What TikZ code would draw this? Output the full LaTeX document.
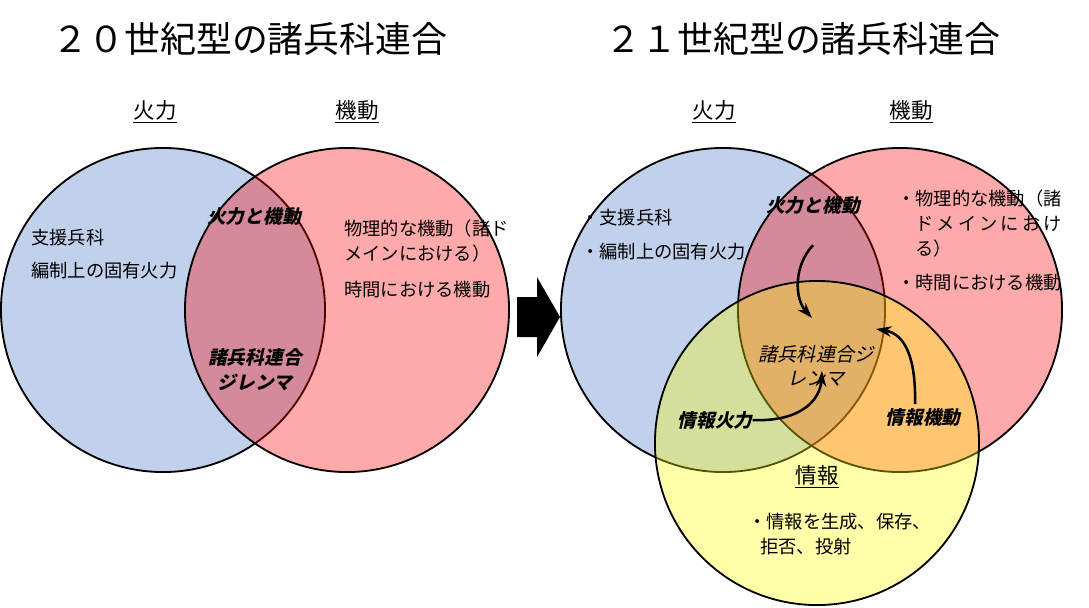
\documentclass[tikz,border=0pt]{standalone}
\usepackage{fontspec}
\setmainfont{Noto Sans CJK JP}
\newfontfamily\jpslant[FakeSlant=0.22]{Noto Sans CJK JP}
\usetikzlibrary{arrows.meta, positioning}
\definecolor{vennblue}{RGB}{68, 114, 196}
\definecolor{vennred}{RGB}{255, 0, 0}
\definecolor{vennyellow}{RGB}{255, 255, 0}
\tikzset{
  venn/.style={draw=black, line width=1.3pt, fill opacity=0.333},
  bigtitle/.style={font=\fontsize{25.5}{30}\selectfont, inner sep=0pt},
  heading/.style={font=\fontsize{15.3}{18}\selectfont, inner sep=0pt},
  body/.style={font=\fontsize{13}{17.8}\selectfont, anchor=west, inner sep=0pt, align=left},
  overlap/.style={font=\jpslant\bfseries\fontsize{13.3}{17.8}\selectfont, align=center, inner sep=0pt},
  curvearrow/.style={line width=1.8pt, -{Stealth[length=11pt, width=7.5pt]}}
}

\begin{document}
\begin{tikzpicture}[x=0.025cm, y=-0.025cm]
  \useasboundingbox (0,0) rectangle (1089,607);

  % 20th century
  \fill[venn, fill=vennblue] (163,310) circle[radius=4.05cm];
  \fill[venn, fill=vennred] (347,310) circle[radius=4.05cm];

  \node[bigtitle] (title20) at (250,39) {２０世紀型の諸兵科連合};
  \node[heading] (fire1) at (155,112) {\underline{火力}};
  \node[heading] (move1) at (357,112) {\underline{機動}};

  \node[body] (support1) at (31,238) {支援兵科};
  \node[body] (organic1) at (31,271) {編制上の固有火力};
  \node[overlap] (fm1) at (254,216) {火力と機動};
  \node[body] (phys1) at (344,241) {物理的な機動（諸ド\\メインにおける）};
  \node[body] (time1) at (344,290) {時間における機動};
  \node[overlap] (dil1) at (255,370) {諸兵科連合\\ジレンマ};

  % transition
  \fill[black] (517,297) -- (537,297) -- (537,277) -- (560,317)
    -- (537,357) -- (537,337) -- (517,337) -- cycle;

  % 21st century
  \fill[venn, fill=vennblue] (723,310) circle[radius=4.05cm];
  \fill[venn, fill=vennred] (900,310) circle[radius=4.05cm];
  \fill[venn, fill=vennyellow] (817,443) circle[radius=4.05cm];

  \node[bigtitle] (title21) at (803,39) {２１世紀型の諸兵科連合};
  \node[heading] (fire2) at (714,112) {\underline{火力}};
  \node[heading] (move2) at (911,112) {\underline{機動}};
  \node[heading] (info2) at (817,477) {\underline{情報}};

  \node[body] (support2) at (581,218) {・支援兵科};
  \node[body] (organic2) at (581,252) {・編制上の固有火力};
  \node[body] (phys2) at (897,224) {・物理的な機動（諸\\
    \hspace*{1em}\makebox[8em]{ド\hfill メ\hfill イ\hfill ン\hfill に\hfill お\hfill け}\\
    \hspace*{1em}る）};
  \node[body] (time2) at (897,283) {・時間における機動};
  \node[body] (infotext) at (748,534) {・情報を生成、保存、\\\hspace*{0.65em}拒否、投射};

  \node[overlap] (fm2) at (813,205) {火力と機動};
  \node[overlap, font=\jpslant\fontsize{13.6}{17}\selectfont] (dil2) at (816,366) {諸兵科連合ジ\\レンマ};
  \node[overlap] (intfire) at (715,420) {情報火力};
  \node[overlap] (intmove) at (923,417) {情報機動};

  \coordinate (fmtip) at (812,318);
  \coordinate (movestart) at (915,404);
  \coordinate (movetip) at (876,329);
  \coordinate (firetip) at (822,371);

  \draw[curvearrow] ([yshift=-22]fm2.south) .. controls (794,265) and (794,298) .. (fmtip);
  \draw[curvearrow] (movestart) .. controls (916,360) and (906,334) .. (movetip);
  \draw[curvearrow] (intfire.east) .. controls (798,422) and (820,402) .. (firetip);
\end{tikzpicture}
\end{document}
